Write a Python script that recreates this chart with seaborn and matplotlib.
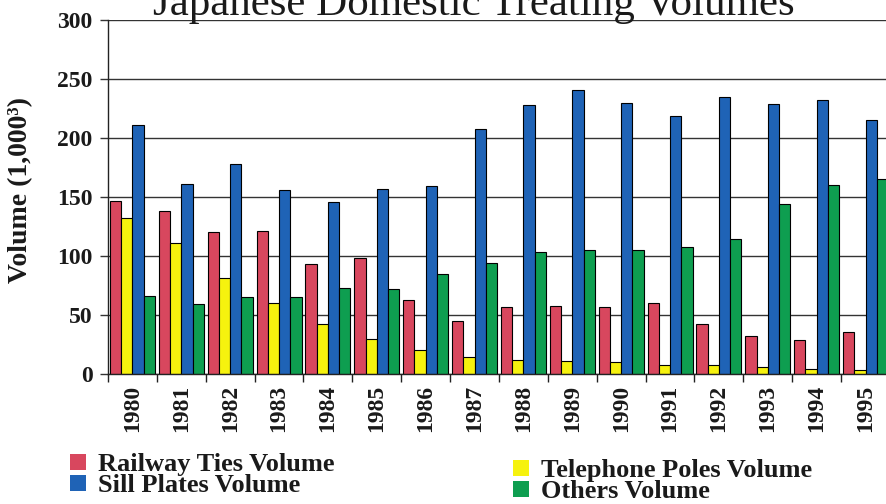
import numpy as np
import pandas as pd
import matplotlib
matplotlib.use("Agg")
import matplotlib.pyplot as plt
import seaborn as sns
from matplotlib.patches import Patch

# ---- data ----
years = [str(y) for y in range(1980, 1996)]
railway_ties = [147, 138, 120, 121, 93, 98, 63, 45, 57, 58, 57, 60, 42, 32, 29, 36]
telephone_poles = [132, 111, 81, 60, 42, 30, 20, 14, 12, 11, 10, 8, 8, 6, 4, 3]
sill_plates = [211, 161, 178, 156, 146, 157, 159, 208, 228, 241, 230, 219, 235, 229, 232, 215]
others = [66, 59, 65, 65, 73, 72, 85, 94, 103, 105, 105, 108, 114, 144, 160, 165]
series_names = ["Railway Ties Volume", "Telephone Poles Volume",
                "Sill Plates Volume", "Others Volume"]
y_ticks = [0, 50, 100, 150, 200, 250, 300]
title_text = "Japanese Domestic Treating Volumes"
ylabel_text = "Volume (1,000³)"

colors = {"Railway Ties Volume": "#d8475e",
          "Telephone Poles Volume": "#f6f20e",
          "Sill Plates Volume": "#1f63b6",
          "Others Volume": "#0e9e50"}

sns.set_theme(style="white")
plt.rcParams['font.family'] = ['Liberation Serif', 'DejaVu Serif']

df = pd.DataFrame({
    "Year": years * 4,
    "Volume": railway_ties + telephone_poles + sill_plates + others,
    "Series": np.repeat(series_names, len(years)),
})

W, H = 887, 504
fig = plt.figure(figsize=(W / 100, H / 100), dpi=100)
ax = fig.add_axes([108 / W, (H - 374) / H, 782 / W, 354 / H])

sns.barplot(data=df, x="Year", y="Volume", hue="Series", order=years,
            hue_order=series_names, palette=colors, saturation=1,
            width=0.92, edgecolor="black", linewidth=0.8, legend=False, ax=ax)

ax.set_xlim(-0.5, len(years) - 0.5)
ax.set_ylim(0, 300)
ax.set_yticks(y_ticks)
ax.set_axisbelow(True)
ax.yaxis.grid(True, color="#333333", linewidth=1.0)
ax.xaxis.grid(False)
for s in ["top", "right"]:
    ax.spines[s].set_visible(False)
for s in ["left", "bottom"]:
    ax.spines[s].set_color("#222222")
    ax.spines[s].set_linewidth(1.0)

ax.set_xlabel("")
ax.set_ylabel("")
ax.set_xticks(np.arange(-0.5, len(years), 1.0), minor=True)
ax.tick_params(axis="x", which="major", length=0, pad=8)
ax.tick_params(axis="x", which="minor", length=6, width=1, color="#222222",
               direction="out", bottom=True)
ax.tick_params(axis="y", which="major", length=6, width=1, color="#333333",
               direction="out", left=True, pad=5)
for lab in ax.get_xticklabels():
    lab.set_rotation(90)
    lab.set_fontsize(17)
    lab.set_fontweight("bold")
    lab.set_color("#1a1a1a")
for lab in ax.get_yticklabels():
    lab.set_fontsize(17)
    lab.set_fontweight("bold")
    lab.set_color("#1a1a1a")

fig.text(21 / W, 1 - 190 / H, ylabel_text, rotation=90, ha="center",
         va="center", fontsize=20, fontweight="bold", color="#1a1a1a")
fig.text(474 / W, 1 - 15 / H, title_text, ha="center", va="baseline",
         fontsize=31, color="#1a1a1a")

def legend_for(names, x, y):
    handles = [Patch(facecolor=colors[n], edgecolor="none") for n in names]
    leg = fig.legend(handles, names, loc="upper left",
                     bbox_to_anchor=(x / W, 1 - y / H), frameon=False,
                     borderpad=0, borderaxespad=0, handlelength=0.6,
                     handleheight=0.55, handletextpad=0.45,
                     labelspacing=-0.06, prop={"size": 19, "weight": "bold"})
    for t in leg.get_texts():
        t.set_color("#1a1a1a")
    return leg

legend_for(["Railway Ties Volume", "Sill Plates Volume"], 70, 453)
legend_for(["Telephone Poles Volume", "Others Volume"], 513, 459)

fig.savefig("out.png", dpi=100)
